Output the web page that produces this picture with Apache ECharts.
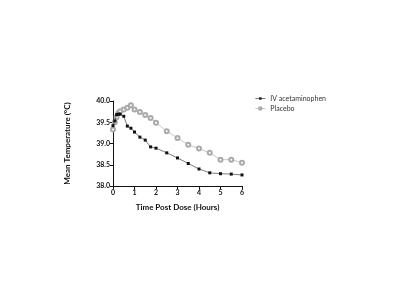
<!DOCTYPE html>
<html>
<head>
<meta charset="utf-8">
<script src="https://cdn.jsdelivr.net/npm/echarts@6/dist/echarts.min.js"></script>
<style>
	html, body { margin: 0; padding: 0; background: #fff; }
	#chart { width: 400px; height: 304px; }
</style>
</head>
<body>
<div id="chart"></div>
<script>
// time points (hours)
var hours = [0, 0.083, 0.167, 0.25, 0.333, 0.5, 0.667, 0.833, 1, 1.25, 1.5, 1.75, 2, 2.5, 3, 3.5, 4, 4.5, 5, 5.5, 6];
// mean temperature (°C)
var ivTemp = [39.42, 39.53, 39.68, 39.69, 39.69, 39.64, 39.41, 39.36, 39.27, 39.15, 39.08, 38.92, 38.89, 38.78, 38.66, 38.53, 38.40, 38.31, 38.29, 38.28, 38.26];
var placeboTemp = [39.33, 39.50, 39.62, 39.72, 39.76, 39.80, 39.84, 39.90, 39.80, 39.74, 39.67, 39.60, 39.49, 39.29, 39.13, 38.97, 38.88, 38.78, 38.62, 38.62, 38.55];
var seriesNames = ['IV acetaminophen', 'Placebo'];

function pairs(xs, ys){
	var out = [];
	for(var i = 0; i < xs.length; i++){
		out.push([xs[i], ys[i]]);
	}
	return out;
}

var font = 'Lato';
var option = {
	animation: false,
	backgroundColor: '#fff',
	textStyle: { fontFamily: font },
	grid: { left: 113, right: 158, top: 101, bottom: 118 },
	legend: {
		orient: 'vertical',
		left: 250,
		top: 90,
		itemWidth: 10,
		itemHeight: 3,
		itemGap: 3,
		lineStyle: { width: 0.7 },
		itemStyle: { borderWidth: 0.6 },
		textStyle: { fontSize: 7, color: '#333', fontFamily: font },
		data: seriesNames
	},
	xAxis: {
		type: 'value',
		min: 0, max: 6, interval: 1,
		name: 'Time Post Dose (Hours)',
		nameLocation: 'middle',
		nameGap: 17,
		nameTextStyle: { fontSize: 8, fontWeight: 'bold', color: '#111' },
		axisLine: { lineStyle: { color: '#111', width: 1 } },
		axisTick: { length: 3, lineStyle: { color: '#111' } },
		axisLabel: { fontSize: 7, fontWeight: 'bold', color: '#111', margin: 3 },
		splitLine: { show: false }
	},
	yAxis: {
		type: 'value',
		min: 38, max: 40, interval: 0.5,
		name: 'Mean Temperature (°C)',
		nameLocation: 'middle',
		nameGap: 42,
		nameTextStyle: { fontSize: 8, fontWeight: 'bold', color: '#111' },
		axisLine: { show: true, lineStyle: { color: '#111', width: 1 } },
		axisTick: { show: true, length: 3, lineStyle: { color: '#111' } },
		axisLabel: { fontSize: 7, fontWeight: 'bold', color: '#111', margin: 3,
			formatter: function(v){ return v.toFixed(1); } },
		splitLine: { show: false }
	},
	series: [
		{
			name: seriesNames[0],
			type: 'line',
			data: pairs(hours, ivTemp),
			symbol: 'rect',
			symbolSize: 3,
			itemStyle: { color: '#111' },
			lineStyle: { color: '#444', width: 0.7 },
			z: 3
		},
		{
			name: seriesNames[1],
			type: 'line',
			data: pairs(hours, placeboTemp),
			symbol: 'emptyCircle',
			symbolSize: 4,
			itemStyle: { color: '#aaa', borderWidth: 0.6 },
			lineStyle: { color: '#b0b0b0', width: 0.7 },
			z: 2
		}
	]
};

var myChart = echarts.init(document.getElementById('chart'));
myChart.setOption(option);
</script>
</body>
</html>
